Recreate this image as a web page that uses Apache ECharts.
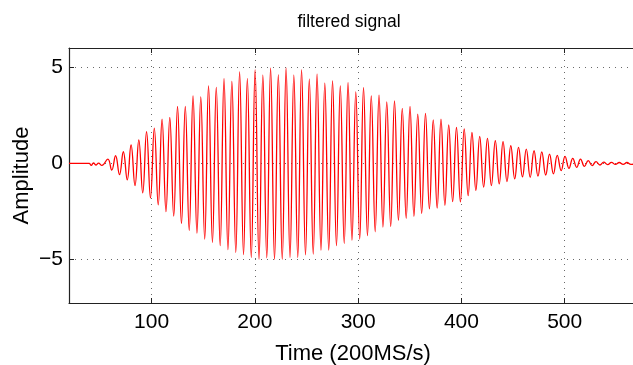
<!DOCTYPE html>
<html>
<head>
<meta charset="utf-8">
<script src="https://cdn.jsdelivr.net/npm/echarts@6/dist/echarts.min.js"></script>
<style>
  html, body { margin: 0; padding: 0; background: #fff; }
  #chart { width: 633px; height: 365px; }
</style>
</head>
<body>
<div id="chart"></div>
<script>
// ---- data ----
const xTicks = [100, 200, 300, 400, 500];
const yTicks = [-5, 0, 5];

// quiet lead-in before the burst
const leadT = [20, 39.5, 41.5, 43.7, 46.0, 48.6, 51.8];
const leadV = [0, 0, -0.10, 0.03, -0.08, 0.02, -0.10];

// local maxima of the oscillation
const peakT = [57.6, 65.1, 72.6, 80.1, 87.6, 95.1, 102.6, 110.1, 117.6, 125.1,
  132.6, 140.1, 147.6, 155.1, 162.6, 170.1, 177.7, 185.2, 192.7, 200.2,
  207.7, 215.2, 222.7, 230.2, 237.7, 245.2, 252.7, 260.2, 267.7, 275.2,
  282.7, 290.2, 297.7, 305.2, 312.7, 320.2, 327.7, 335.2, 342.7, 350.2,
  357.7, 365.2, 372.7, 380.2, 387.7, 395.2, 402.7, 410.2, 417.7, 425.2,
  432.8, 440.3, 447.8, 455.3, 462.8, 470.3, 477.8, 485.3, 492.8, 500.3,
  507.8, 515.3, 522.8, 530.3, 537.8, 545.3, 552.8, 560.3];
const peakV = [0.23, 0.40, 0.61, 0.96, 1.22, 1.65, 1.84, 2.30, 2.39, 2.96,
  2.96, 3.51, 3.46, 4.03, 3.95, 4.41, 4.26, 4.76, 4.41, 4.86,
  4.59, 4.95, 4.60, 4.95, 4.59, 4.86, 4.38, 4.64, 4.17, 4.29,
  4.03, 4.20, 3.72, 3.94, 3.51, 3.55, 3.20, 3.25, 2.86, 2.96,
  2.56, 2.60, 2.27, 2.30, 2.00, 1.87, 1.79, 1.61, 1.41, 1.30,
  1.18, 1.13, 0.92, 0.84, 0.75, 0.66, 0.60, 0.49, 0.42, 0.37,
  0.27, 0.23, 0.15, 0.10, 0.07, 0.06, 0.05, 0.05];

// local minima of the oscillation
const troughT = [61.4, 68.9, 76.4, 83.9, 91.4, 98.9, 106.4, 113.9, 121.4, 128.9,
  136.4, 143.9, 151.4, 158.9, 166.4, 173.9, 181.5, 189.0, 196.5, 204.0,
  211.5, 219.0, 226.5, 234.0, 241.5, 249.0, 256.5, 264.0, 271.5, 279.0,
  286.5, 294.0, 301.5, 309.0, 316.5, 324.0, 331.5, 339.0, 346.5, 354.0,
  361.5, 369.0, 376.5, 384.0, 391.5, 399.0, 406.5, 414.0, 421.5, 429.0,
  436.6, 444.1, 451.6, 459.1, 466.6, 474.1, 481.6, 489.1, 496.6, 504.1,
  511.6, 519.1, 526.6, 534.1, 541.6, 549.1, 556.6, 564.1];
const troughV = [-0.34, -0.58, -0.85, -1.15, -1.53, -1.79, -2.15, -2.50, -2.74, -3.13,
  -3.48, -3.62, -3.93, -4.10, -4.27, -4.48, -4.62, -4.74, -4.88, -4.97,
  -4.90, -4.97, -4.97, -4.88, -4.88, -4.75, -4.71, -4.50, -4.50, -4.27,
  -4.15, -3.98, -3.93, -3.75, -3.55, -3.30, -3.28, -2.96, -2.85, -2.75,
  -2.60, -2.36, -2.32, -2.18, -1.98, -2.00, -1.67, -1.40, -1.23, -1.15,
  -1.06, -0.94, -0.80, -0.70, -0.72, -0.66, -0.60, -0.54, -0.37, -0.25,
  -0.20, -0.15, -0.11, -0.08, -0.06, -0.05, -0.05, -0.05];

const tailT = [570];
const tailV = [0.02];

// ---- build series points ----
const pts = [];
leadT.forEach((t, i) => pts.push([t, leadV[i]]));
peakT.forEach((t, i) => {
  pts.push([t, peakV[i]]);
  pts.push([troughT[i], troughV[i]]);
});
tailT.forEach((t, i) => pts.push([t, tailV[i]]));
pts.sort((a, b) => a[0] - b[0]);

const FONT = '"Liberation Sans", Arial, Helvetica, sans-serif';
const gridLine = { show: true, lineStyle: { color: '#6a6a6a', width: 1, type: [1, 5] } };

const chart = echarts.init(document.getElementById('chart'), null, { renderer: 'canvas' });
chart.setOption({
  animation: false,
  backgroundColor: '#fff',
  title: {
    text: 'filtered signal',
    left: 344, top: 8, textAlign: 'center',
    textStyle: { fontFamily: FONT, fontSize: 17.5, fontWeight: 'normal', color: '#000' }
  },
  grid: { left: 69, top: 48, right: -4, bottom: 62, outerBoundsMode: 'none', containLabel: false },
  xAxis: [{
    type: 'value', min: 20, max: 570, position: 'bottom',
    name: 'Time (200MS/s)', nameLocation: 'middle', nameGap: 40, nameMoveOverlap: false,
    nameTextStyle: { fontFamily: FONT, fontSize: 22, color: '#000' },
    axisLine: { show: true, onZero: false, lineStyle: { color: '#222', width: 1.2 } },
    axisTick: { show: true, inside: true, length: 5, customValues: xTicks, lineStyle: { color: '#222' } },
    axisLabel: { customValues: xTicks, margin: 9, fontFamily: FONT, fontSize: 21, color: '#000' },
    splitLine: gridLine
  }, {
    type: 'value', min: 20, max: 570, position: 'top',
    axisLine: { show: true, onZero: false, lineStyle: { color: '#222', width: 1.2 } },
    axisTick: { show: true, inside: true, length: 5, customValues: xTicks, lineStyle: { color: '#222' } },
    axisLabel: { show: false },
    splitLine: { show: false }
  }],
  yAxis: {
    type: 'value', min: -7.25, max: 6,
    name: 'Amplitude', nameLocation: 'middle', nameGap: 36, nameRotate: 90, nameMoveOverlap: false,
    nameTextStyle: { fontFamily: FONT, fontSize: 22, color: '#000' },
    axisLine: { show: true, onZero: false, lineStyle: { color: '#222', width: 1.2 } },
    axisTick: { show: true, inside: true, length: 5, customValues: yTicks, lineStyle: { color: '#222' } },
    axisLabel: {
      customValues: yTicks, margin: 6, fontFamily: FONT, fontSize: 21, color: '#000',
      formatter: v => (v < 0 ? '\u2212' + Math.abs(v) : String(v))
    },
    splitLine: gridLine
  },
  series: [{
    type: 'line', xAxisIndex: 0, data: pts,
    showSymbol: false, smooth: 0.45,
    lineStyle: { color: '#ff0000', width: 1.3 },
    emphasis: { disabled: true },
    z: 5
  }]
});
</script>
</body>
</html>
